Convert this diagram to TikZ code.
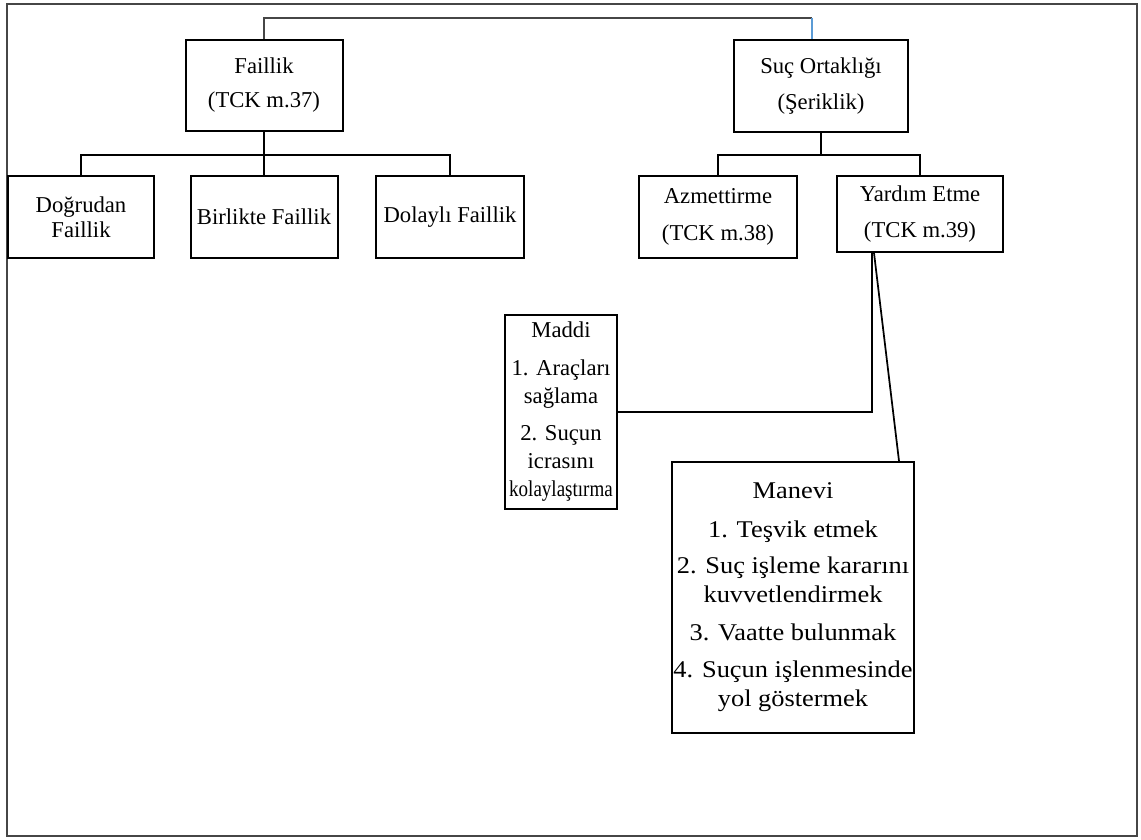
\documentclass[tikz,border=0pt]{standalone}
\usepackage{graphicx}
\usepackage{fontspec}
\setmainfont{Liberation Serif}
\newfontfamily\widefont{Liberation Serif}[FakeStretch=1.1]
\definecolor{edgeblue}{RGB}{91,155,213}
\definecolor{framegray}{RGB}{70,70,70}

\begin{document}
\begin{tikzpicture}[x=0.75pt,y=-0.75pt,
  box/.style={draw,line width=1.5pt,align=center,inner sep=0pt,font=\fontsize{17}{21}\selectfont},
  link/.style={line width=1.3pt},
  thinlink/.style={line width=0.8pt,draw=framegray}]
\useasboundingbox (0,0) rectangle (1141,839);
\draw[thinlink] (7,4) rectangle (1137,836);

% upper level
\node[box,minimum width=117.75pt,minimum height=68.25pt] (faillik) at (264,85.5) {Faillik\\[4.5pt](TCK m.37)};
\node[box,minimum width=130.5pt,minimum height=69pt] (ortaklik) at (821,86) {Suç Ortaklığı\\[6pt](Şeriklik)};

% kinds of faillik
\node[box,minimum width=109.5pt,minimum height=61.5pt] (dogrudan) at (81,217) {Doğrudan\\[-2.25pt]Faillik};
\node[box,minimum width=110.25pt,minimum height=61.5pt] (birlikte) at (264,217) {Birlikte Faillik};
\node[box,minimum width=111pt,minimum height=61.5pt] (dolayli) at (450,217) {Dolaylı Faillik};

% kinds of ortaklik
\node[box,minimum width=118.5pt,minimum height=61.5pt] (azmettirme) at (718,217) {Azmettirme\\[6.75pt](TCK m.38)};
\node[box,minimum width=124.5pt,minimum height=57pt] (yardim) at (920,214) {Yardım Etme\\[6pt](TCK m.39)};

% yardim etme
\node[box,minimum width=84pt,minimum height=145.5pt] (maddi) at (561,412)
  {Maddi\\[7.5pt]1. Araçları\\sağlama\\[6.75pt]2. Suçun\\icrasını\\\scalebox{0.84}[1]{kolaylaştırma}};
\node[box,minimum width=181.5pt,minimum height=203.25pt,font=\widefont\fontsize{18}{21.75}\selectfont] (manevi) at (793,597.5)
  {Manevi\\[7.5pt]1. Teşvik etmek\\[5.25pt]2. Suç işleme kararını\\kuvvetlendirmek\\[6.75pt]3. Vaatte bulunmak\\[6pt]4. Suçun işlenmesinde\\yol göstermek};

% connectors
\coordinate (topbar) at (812,18);
\draw[thinlink] (faillik.north) |- (topbar);
\draw[line width=0.8pt,draw=edgeblue] (topbar) -- (topbar |- ortaklik.north);

\draw[link] (faillik.south) -- ++(0,23) coordinate (fbar);
\draw[link] (dogrudan.north) |- (fbar) -| (dolayli.north);
\draw[link] (fbar) -- (birlikte.north);

\draw[link] (ortaklik.south) -- ++(0,22) coordinate (obar);
\draw[link] (azmettirme.north) |- (obar) -| (yardim.north);

\coordinate (yfoot) at ([xshift=27pt]yardim.south west);
\draw[link] (yfoot) |- (maddi.east);
\draw[link] ([xshift=1.5pt]yfoot) -- ([xshift=-12pt]manevi.north east);
\end{tikzpicture}
\end{document}
